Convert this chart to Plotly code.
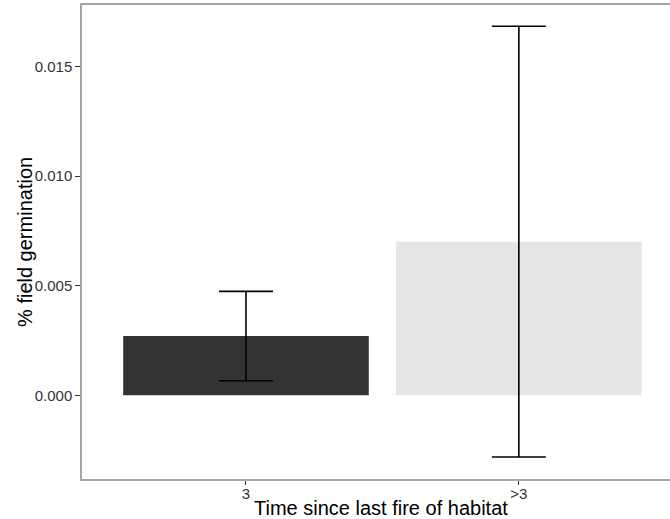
import plotly.graph_objects as go

# Germination by fire-history group
categories = ["3", ">3"]
mean_germination = [0.00270, 0.00701]
error_germination = [0.00204, 0.00983]
bar_colors = ["#333333", "#e5e5e5"]

x_title = "Time since last fire of habitat"
y_title = "% field germination"

positions = list(range(len(categories)))

fig = go.Figure()
fig.add_trace(go.Bar(
    x=positions,
    y=mean_germination,
    width=0.9,
    marker=dict(color=bar_colors, line=dict(width=0)),
    error_y=dict(type="data", array=error_germination, visible=True,
                 color="black", thickness=1.6, width=27),
    showlegend=False,
))

border = "#a6a6a6"
font_family = "Liberation Sans, Arial, sans-serif"

fig.update_layout(
    width=670, height=519,
    margin=dict(l=82, r=0, t=5, b=40),
    paper_bgcolor="white",
    plot_bgcolor="white",
    font=dict(family=font_family, color="black"),
    xaxis=dict(
        range=[-0.601, 1.554],
        tickvals=positions,
        ticktext=categories,
        showgrid=False, zeroline=False, automargin=False,
        showline=True, mirror=True, linecolor=border, linewidth=1.5,
        ticks="outside", ticklen=4, tickwidth=1, tickcolor="#333333",
        tickfont=dict(size=15, color="#333333"),
        ticklabelstandoff=-4,
    ),
    yaxis=dict(
        range=[-0.003822, 0.01781],
        tickvals=[0.0, 0.005, 0.010, 0.015],
        ticktext=["0.000", "0.005", "0.010", "0.015"],
        showgrid=False, zeroline=False, automargin=False,
        showline=True, mirror=False, linecolor=border, linewidth=1.5,
        ticks="outside", ticklen=5, tickwidth=1, tickcolor="#333333",
        tickfont=dict(size=15, color="#333333"),
    ),
    annotations=[
        dict(text=x_title, xref="paper", yref="paper", x=0.5085, y=-0.062,
             xanchor="center", yanchor="middle", showarrow=False,
             font=dict(size=20, color="black")),
        dict(text=y_title, xref="paper", yref="paper", x=-0.097, y=0.5,
             xanchor="center", yanchor="middle", textangle=-90, showarrow=False,
             font=dict(size=20, color="black")),
    ],
)

fig.write_html("out.html")
